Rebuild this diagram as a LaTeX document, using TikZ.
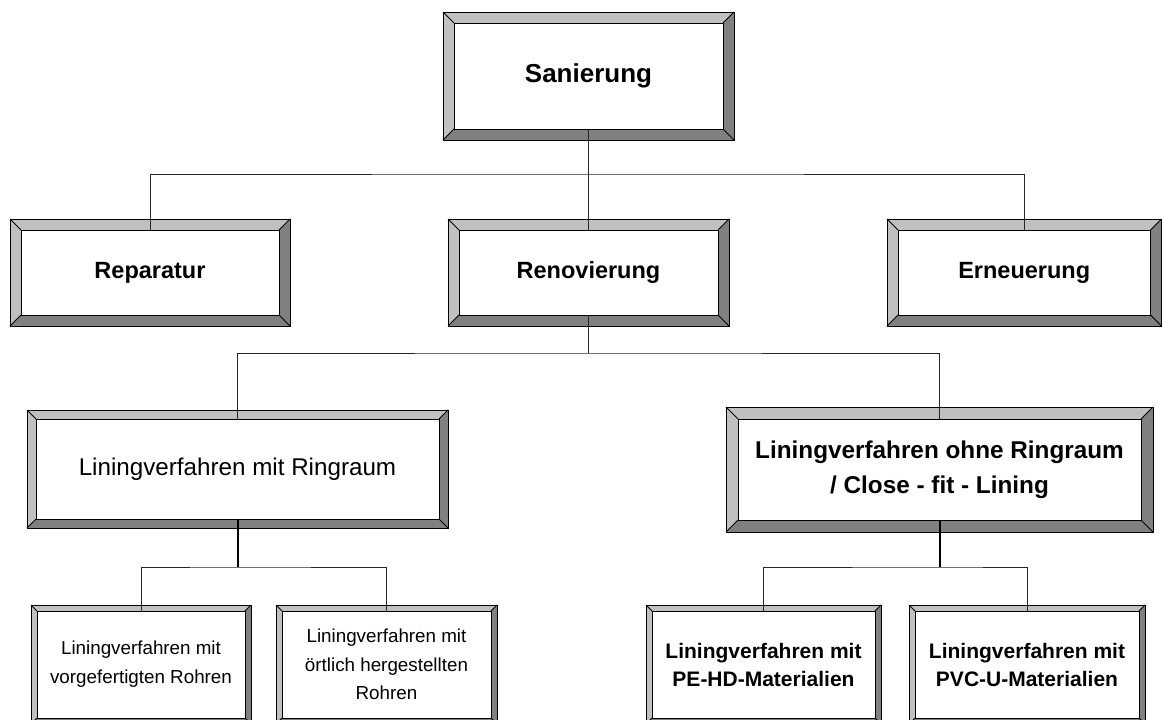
\documentclass[tikz,border=0pt]{standalone}
\usepackage{fontspec}
\setmainfont{Liberation Sans}
\definecolor{bevlite}{HTML}{C0C0C0}
\definecolor{bevdark}{HTML}{808080}
\tikzset{
  innerbox/.style={draw=black, fill=white, inner sep=0pt, line width=0.9pt, align=center},
  bevline/.style={draw=black, line width=0.9pt},
  conn/.style={draw=black!85, line width=0.9pt},
  connthick/.style={draw=black, line width=2pt},
}
% name, x1, y1, x2, y2, bevel, font, text
\newcommand\bevbox[8]{%
  \fill[bevlite] (#2,#3) -- (#4,#3) -- (#4-#6,#3+#6) -- (#2+#6,#3+#6) -- cycle;
  \fill[bevlite] (#2,#3) -- (#2+#6,#3+#6) -- (#2+#6,#5-#6) -- (#2,#5) -- cycle;
  \fill[bevdark] (#4,#3) -- (#4,#5) -- (#4-#6,#5-#6) -- (#4-#6,#3+#6) -- cycle;
  \fill[bevdark] (#2,#5) -- (#4,#5) -- (#4-#6,#5-#6) -- (#2+#6,#5-#6) -- cycle;
  \draw[bevline] (#2,#3) rectangle (#4,#5);
  \draw[bevline] (#2,#3) -- (#2+#6,#3+#6) (#4,#3) -- (#4-#6,#3+#6)
                 (#2,#5) -- (#2+#6,#5-#6) (#4,#5) -- (#4-#6,#5-#6);
  \pgfmathsetmacro\bevbw{#4-#2-2*#6}%
  \pgfmathsetmacro\bevbh{#5-#3-2*#6}%
  \pgfmathsetmacro\bevcx{(#2+#4)/2}%
  \pgfmathsetmacro\bevcy{(#3+#5)/2}%
  \node[innerbox, minimum width=\bevbw pt, minimum height=\bevbh pt, font={#7}] (#1) at (\bevcx,\bevcy) {#8};
}
\begin{document}
\begin{tikzpicture}[x=1pt,y=-1pt]
\useasboundingbox (0,0) rectangle (1162,720);
\clip (0,0) rectangle (1162,720);
\fill[white] (0,0) rectangle (1162,720);

\bevbox{san}{443}{12}{734}{140}{11}{\fontsize{26}{31}\selectfont\bfseries}{Sanierung}
\bevbox{rep}{10}{219}{290}{326}{11}{\fontsize{23.5}{28}\selectfont\bfseries}{Reparatur}
\bevbox{ren}{448}{219}{729}{326}{11}{\fontsize{23.5}{28}\selectfont\bfseries}{Renovierung}
\bevbox{ern}{887}{219}{1161.5}{326}{11}{\fontsize{23.5}{28}\selectfont\bfseries}{Erneuerung}
\bevbox{lmr}{27}{410}{448}{528}{9}{\fontsize{24.2}{29}\selectfont}{Liningverfahren mit Ringraum}
\bevbox{lor}{726}{407}{1153}{532}{12}{\fontsize{24.3}{35}\selectfont\bfseries}{Liningverfahren ohne Ringraum\\/ Close - fit - Lining}
\bevbox{b1}{31}{605}{251}{724}{6}{\fontsize{18.8}{29}\selectfont}{Liningverfahren mit\\vorgefertigten Rohren}
\bevbox{b2}{276}{605}{497}{724}{6}{\fontsize{18.8}{28.5}\selectfont}{Liningverfahren mit\\örtlich hergestellten\\Rohren}
\bevbox{b3}{646}{605}{881}{724}{6}{\fontsize{21}{28}\selectfont\bfseries}{Liningverfahren mit\\PE-HD-Materialien}
\bevbox{b4}{909}{605}{1145}{724}{6}{\fontsize{21}{28}\selectfont\bfseries}{Liningverfahren mit\\PVC-U-Materialien}

% level 1 connectors
\coordinate (j1) at (san.south |- 0,174);
\draw[conn] (san.south) -- (j1);
\draw[conn] (rep.north) |- (j1) -| (ern.north);
\draw[conn] (j1) -- (ren.north);

% level 2 connectors
\coordinate (j2) at (ren.south |- 0,353);
\draw[conn] (ren.south) -- (j2);
\draw[conn] (lmr.north) |- (j2) -| (lor.north);

% level 3 connectors
\coordinate (j3) at (lmr.south |- 0,567);
\draw[connthick] (lmr.south) -- (j3);
\draw[conn] (b1.north) |- (j3) -| (b2.north);

\coordinate (j4) at (lor.south |- 0,567);
\draw[connthick] (lor.south) -- (j4);
\draw[conn] (b3.north) |- (j4) -| (b4.north);
\end{tikzpicture}
\end{document}
